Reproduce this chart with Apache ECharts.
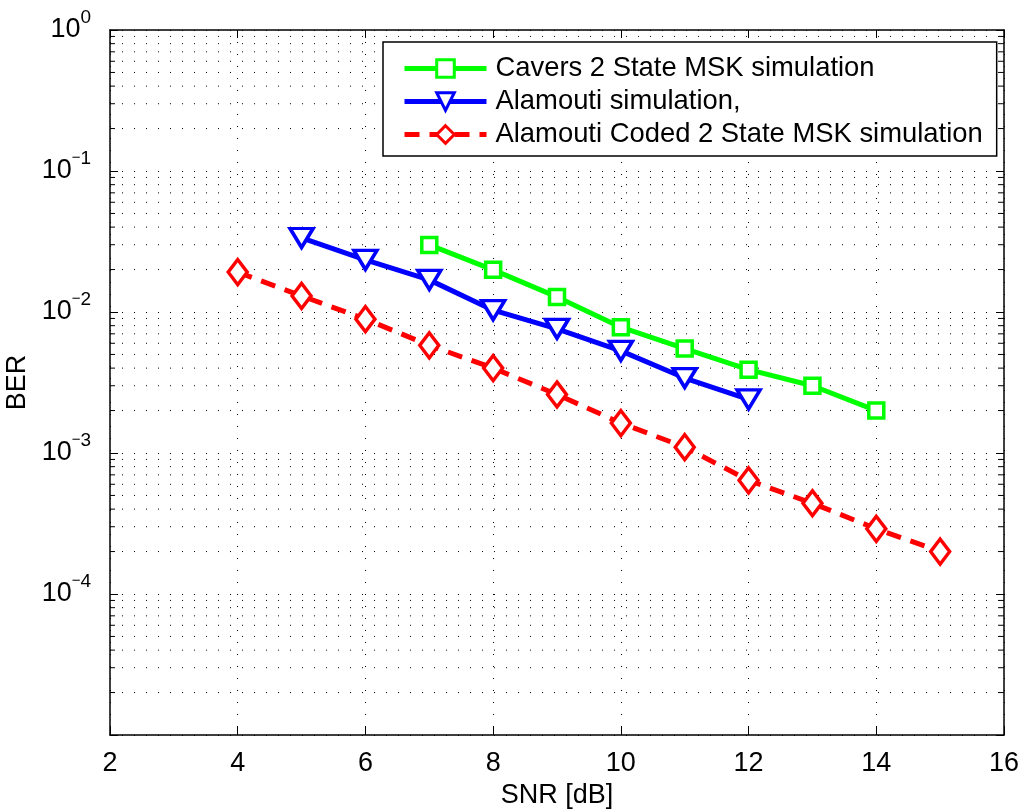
<!DOCTYPE html>
<html><head><meta charset="utf-8">
<script src="https://cdn.jsdelivr.net/npm/echarts@6/dist/echarts.min.js"></script>
<style>html,body{margin:0;padding:0;background:#fff}#c{width:1024px;height:810px}</style>
</head><body><div id="c"></div>
<script>
const seriesNames = ['Cavers 2 State MSK simulation', 'Alamouti simulation,', 'Alamouti Coded 2 State MSK simulation'];
const snrCavers = [7, 8, 9, 10, 11, 12, 13, 14];
const berCavers = [0.0299, 0.0199, 0.0128, 0.0078, 0.0055, 0.0039, 0.0030, 0.0020];
const snrAlamouti = [5, 6, 7, 8, 9, 10, 11, 12];
const berAlamouti = [0.0335, 0.0234, 0.0169, 0.0103, 0.0076, 0.0053, 0.0034, 0.0024];
const snrCoded = [4, 5, 6, 7, 8, 9, 10, 11, 12, 13, 14, 15];
const berCoded = [0.0192, 0.0130, 0.0089, 0.0058, 0.0040, 0.0026, 0.00163, 0.0011, 0.00064, 0.00044, 0.00029, 0.0002];
const xTickLabels = ['2', '4', '6', '8', '10', '12', '14', '16'];
const yDecadeExponents = ['−5', '−4', '−3', '−2', '−1', '0'];
const minorMultipliers = [2, 3, 4, 5, 6, 7, 8, 9];
const minorDecades = [1e-5, 1e-4, 1e-3, 1e-2, 1e-1];

const FONT = "'Liberation Sans', Arial, Helvetica, sans-serif";
const minorGrid = [];
minorDecades.forEach(d => minorMultipliers.forEach(m => minorGrid.push([2, d * m])));

const chart = echarts.init(document.getElementById('c'), null, {renderer: 'canvas'});
const X0 = 2, X1 = 16;

const option = {
  backgroundColor: '#fff',
  animation: false,
  grid: {left: 110, right: 20, top: 30, bottom: 75, containLabel: false, outerBoundsMode: 'none'},
  legend: {
    data: seriesNames,
    orient: 'vertical',
    left: 383, top: 42,
    padding: [13, 14, 8, 19],
    itemGap: 6,
    itemWidth: 82, itemHeight: 22,
    backgroundColor: '#fff',
    borderColor: '#000', borderWidth: 1.5,
    lineStyle: {width: 5},
    itemStyle: {borderWidth: 3},
    textStyle: {fontFamily: FONT, fontSize: 27.4, color: '#000', padding: [0, 0, 0, 4]}
  },
  xAxis: [{
    type: 'value', min: 2, max: 16, interval: 2,
    name: 'SNR [dB]', nameLocation: 'middle', nameGap: 43,
    nameTextStyle: {fontFamily: FONT, fontSize: 27, color: '#000'},
    axisLine: {show: true, onZero: false, lineStyle: {color: '#000', width: 1.5}},
    axisTick: {inside: true, length: 8, lineStyle: {color: '#000', width: 1}},
    axisLabel: {fontFamily: FONT, fontSize: 27, color: '#000', margin: 15,
      formatter: v => xTickLabels[Math.round((v - 2) / 2)]},
    splitLine: {show: true, lineStyle: {color: '#000', width: 1, type: [1, 11]}}
  }, {
    type: 'value', min: 2, max: 16, interval: 2, position: 'top',
    axisLine: {show: true, onZero: false, lineStyle: {color: '#000', width: 1.5}},
    axisTick: {inside: true, length: 8, lineStyle: {color: '#000', width: 1}},
    axisLabel: {show: false}, splitLine: {show: false}
  }],
  yAxis: [{
    type: 'log', logBase: 10, min: 1e-5, max: 1,
    name: 'BER', nameLocation: 'middle', nameGap: 70, nameRotate: 90,
    nameTextStyle: {fontFamily: FONT, fontSize: 27, color: '#000'},
    axisLine: {show: true, onZero: false, lineStyle: {color: '#000', width: 1.5}},
    axisTick: {inside: true, length: 8, lineStyle: {color: '#000', width: 1}},
    axisLabel: {
      margin: 19, color: '#000',
      formatter: v => {
        const e = Math.round(Math.log10(v));
        if (e === -5) return '';
        const s = yDecadeExponents[e + 5];
        if (s.charAt(0) === '−') return '{b|10}{m|−}{s|' + s.slice(1) + '}';
        return '{b|10}{s|' + s + '}';
      },
      rich: {
        b: {fontFamily: FONT, fontSize: 27, color: '#000'},
        m: {fontFamily: FONT, fontSize: 15, color: '#000', padding: [0, 0, 26, 0]},
        s: {fontFamily: FONT, fontSize: 19, color: '#000', padding: [0, 0, 24, 0]}
      }
    },
    splitLine: {show: true, lineStyle: {color: '#000', width: 1, type: [1, 11]}}
  }, {
    type: 'log', logBase: 10, min: 1e-5, max: 1, position: 'right',
    axisLine: {show: true, onZero: false, lineStyle: {color: '#000', width: 1.5}},
    axisTick: {inside: true, length: 8, lineStyle: {color: '#000', width: 1}},
    axisLabel: {show: false}, splitLine: {show: false}
  }],
  series: [
    {
      type: 'custom', name: 'minorgrid', silent: true, z: 1,
      xAxisIndex: 0, yAxisIndex: 0,
      data: minorGrid,
      renderItem: (params, api) => {
        const v = api.value(1);
        const a = api.coord([X0, v]);
        const b = api.coord([X1, v]);
        return {type: 'group', children: [
          {type: 'line', shape: {x1: a[0], y1: a[1], x2: b[0], y2: b[1]},
           style: {stroke: '#000', lineWidth: 1, lineDash: [1, 11]}},
          {type: 'line', shape: {x1: a[0], y1: a[1], x2: a[0] + 5, y2: a[1]},
           style: {stroke: '#000', lineWidth: 1}},
          {type: 'line', shape: {x1: b[0] - 5, y1: b[1], x2: b[0], y2: b[1]},
           style: {stroke: '#000', lineWidth: 1}}
        ]};
      }
    },
    {
      type: 'line', name: seriesNames[0], z: 3,
      data: snrCavers.map((x, i) => [x, berCavers[i]]),
      symbol: 'rect', symbolSize: 15,
      lineStyle: {color: '#00ff00', width: 5},
      itemStyle: {color: '#fff', borderColor: '#00ff00', borderWidth: 3.5},
      color: '#00ff00'
    },
    {
      type: 'line', name: seriesNames[1], z: 3,
      data: snrAlamouti.map((x, i) => [x, berAlamouti[i]]),
      symbol: 'triangle', symbolRotate: 180, symbolSize: [23, 19],
      lineStyle: {color: '#0000ff', width: 5},
      itemStyle: {color: '#fff', borderColor: '#0000ff', borderWidth: 3.5},
      color: '#0000ff'
    },
    {
      type: 'line', name: seriesNames[2], z: 3,
      data: snrCoded.map((x, i) => [x, berCoded[i]]),
      symbol: 'diamond', symbolSize: [19, 25],
      lineStyle: {color: '#ff0000', width: 5, type: [15, 10]},
      itemStyle: {color: '#fff', borderColor: '#ff0000', borderWidth: 3.5},
      color: '#ff0000'
    }
  ]
};
chart.setOption(option);
</script>
</body></html>
